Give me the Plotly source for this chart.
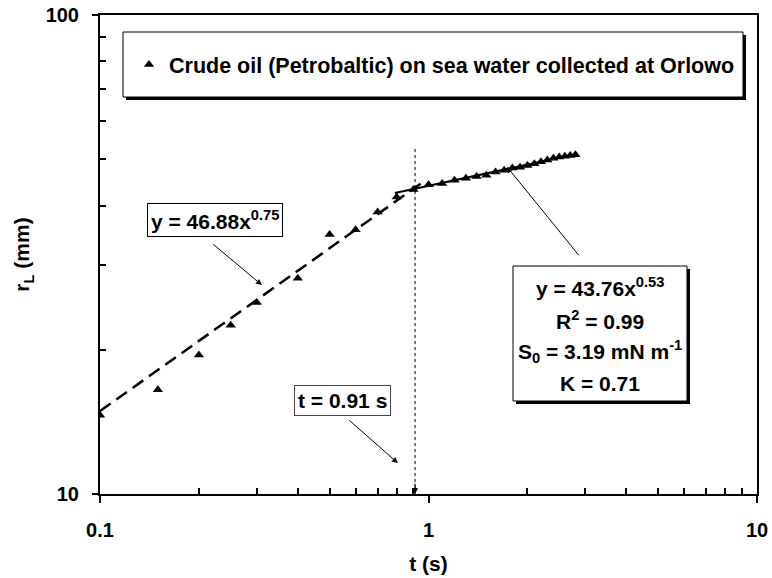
import math
import plotly.graph_objects as go

# measured spreading data (t in s, r_L in mm)
t_early = [0.1, 0.15, 0.2, 0.25, 0.3, 0.4, 0.5, 0.6, 0.7, 0.8, 0.9]
r_early = [14.6, 16.5, 19.5, 22.5, 25.1, 28.2, 34.8, 35.6, 38.8, 41.7, 43.2]
t_late = [1.0, 1.1, 1.2, 1.3, 1.4, 1.5, 1.6, 1.7, 1.8, 1.9, 2.0, 2.1, 2.2, 2.3, 2.4, 2.5, 2.6, 2.7, 2.8]
r_late = [44.2, 44.5, 45.2, 45.6, 46.0, 46.3, 47.0, 47.4, 47.9, 48.1, 48.5, 48.9, 49.4, 49.8,
          50.2, 50.5, 50.7, 50.9, 51.1]

# fitted lines as drawn (endpoints)
fit1_t = [0.1, 0.962]
fit1_r = [14.9, 44.8]
fit2_t = [0.79, 2.85]
fit2_r = [42.5, 51.3]

t_break = 0.91
break_top = 52.7

x_ticks = [0.1, 1, 10]
x_ticktext = ["0.1", "1", "10"]
x_minor = [0.2, 0.3, 0.4, 0.5, 0.6, 0.7, 0.8, 0.9, 2, 3, 4, 5, 6, 7, 8, 9]
y_ticks = [10, 100]
y_ticktext = ["10", "100"]
y_minor = [20, 30, 40, 50, 60, 70, 80, 90]

legend_name = "Crude oil (Petrobaltic) on sea water collected at Orlowo"
fit1_label = "y = 46.88x<sup>0.75</sup>"
fit2_lines = ["y = 43.76x<sup>0.53</sup>", "R<sup>2</sup> = 0.99",
              "S<sub>0</sub> = 3.19 mN m<sup>-1</sup>", "K = 0.71"]
break_label = "t = 0.91 s"

FONT = "Arial, 'Liberation Sans', sans-serif"

# plot area in pixels: left 100, right 757, top 15, bottom 494
def px_x(p):
    return (p - 100) / 657

def px_y(p):
    return (494 - p) / 479

fig = go.Figure()

fig.add_trace(go.Scatter(x=fit1_t, y=fit1_r, mode="lines", showlegend=False,
                         line=dict(color="black", width=2.5, dash="13px,7px")))
fig.add_trace(go.Scatter(x=fit2_t, y=fit2_r, mode="lines", showlegend=False,
                         line=dict(color="black", width=2)))
fig.add_trace(go.Scatter(x=t_early + t_late, y=r_early + r_late, mode="markers",
                         name=legend_name,
                         marker=dict(symbol="triangle-up", size=9, color="black")))

shapes = []
# legend box with shadow
shapes.append(dict(type="rect", xref="paper", yref="paper", x0=px_x(126), x1=px_x(746),
                   y0=px_y(100), y1=px_y(35), fillcolor="black", line=dict(width=0)))
shapes.append(dict(type="rect", xref="paper", yref="paper", x0=px_x(123), x1=px_x(743),
                   y0=px_y(97), y1=px_y(32), fillcolor="white", line=dict(color="black", width=1)))
# right equation box with shadow
shapes.append(dict(type="rect", xref="paper", yref="paper", x0=px_x(516), x1=px_x(690),
                   y0=px_y(404), y1=px_y(269), fillcolor="black", line=dict(width=0)))
shapes.append(dict(type="rect", xref="paper", yref="paper", x0=px_x(513), x1=px_x(687),
                   y0=px_y(401), y1=px_y(266), fillcolor="white", line=dict(color="black", width=1)))
# dotted vertical line at break point
shapes.append(dict(type="line", xref="x", yref="y", x0=t_break, x1=t_break, y0=10, y1=break_top,
                   line=dict(color="black", width=1, dash="3px,3px")))
fig.update_layout(shapes=shapes)

anns = []
txt = dict(family=FONT, size=21, color="black", weight="bold")
anns.append(dict(xref="paper", yref="paper", x=px_x(215), y=px_y(220), text=fit1_label,
                 xanchor="center", yanchor="middle",
                 showarrow=False, font=txt, bgcolor="white", bordercolor="black",
                 borderwidth=1, borderpad=3))
anns.append(dict(xref="paper", yref="paper", x=px_x(342), y=px_y(400), text=break_label,
                 xanchor="center", yanchor="middle",
                 showarrow=False, font=txt, bgcolor="white", bordercolor="#444",
                 borderwidth=1, borderpad=3))
for i, line in enumerate(fit2_lines):
    anns.append(dict(xref="paper", yref="paper", x=px_x(600), y=px_y([287, 320, 352, 383][i]),
                     xanchor="center", yanchor="middle",
                     text=line, showarrow=False, font=txt))

# arrows
arrow = dict(text="", showarrow=True, arrowhead=2, arrowsize=1.2, arrowwidth=1, arrowcolor="black",
             xref="x", yref="y")
anns.append(dict(arrow, x=math.log10(0.311), y=math.log10(27.3), ax=-50, ay=-42))
anns.append(dict(arrow, x=math.log10(1.734), y=math.log10(48.2), ax=73, ay=90))
anns.append(dict(arrow, x=math.log10(0.807), y=math.log10(11.6), ax=-50, ay=-44))
anns.append(dict(arrow, x=math.log10(t_break), y=1, ax=0, ay=-12))
fig.update_layout(annotations=anns)

fig.update_xaxes(type="log", range=[-1, 1], tickvals=x_ticks, ticktext=x_ticktext,
                 ticks="outside", ticklen=7, tickwidth=2, tickcolor="black",
                 showline=True, linecolor="black", linewidth=2, mirror=True, showgrid=False,
                 zeroline=False, ticklabelstandoff=10, automargin=False, ticklabeloverflow="allow",
                 minor=dict(tickvals=x_minor, ticks="inside", ticklen=6, tickwidth=1.5,
                            tickcolor="black", showgrid=False),
                 tickfont=dict(family=FONT, size=20, color="black", weight="bold"),
                 title=dict(text="t (s)", standoff=16,
                            font=dict(family=FONT, size=21, color="black", weight="bold")))
fig.update_yaxes(type="log", range=[1, 2], tickvals=y_ticks, ticktext=y_ticktext,
                 ticks="outside", ticklen=6, tickwidth=2, tickcolor="black",
                 showline=True, linecolor="black", linewidth=2, mirror=True, showgrid=False,
                 zeroline=False, ticklabelstandoff=9, automargin=False, ticklabeloverflow="allow",
                 minor=dict(tickvals=y_minor, ticks="inside", ticklen=6, tickwidth=1.5,
                            tickcolor="black", showgrid=False),
                 tickfont=dict(family=FONT, size=20, color="black", weight="bold"),
                 title=dict(text="r<sub>L</sub> (mm)", standoff=10,
                            font=dict(family=FONT, size=21, color="black", weight="bold")))

fig.update_layout(
    width=772, height=578,
    margin=dict(l=100, r=15, t=15, b=84),
    plot_bgcolor="white", paper_bgcolor="white",
    showlegend=True,
    legend=dict(x=px_x(129), y=px_y(64.5), xanchor="left", yanchor="middle",
                bgcolor="rgba(0,0,0,0)", borderwidth=0,
                font=dict(family=FONT, size=21.5, color="black", weight="bold")),
)

# drop the browser's default body margin so the figure fills the window
fig.write_html("out.html", config={"displayModeBar": False},
               post_script="document.body.style.margin = '0px';")
